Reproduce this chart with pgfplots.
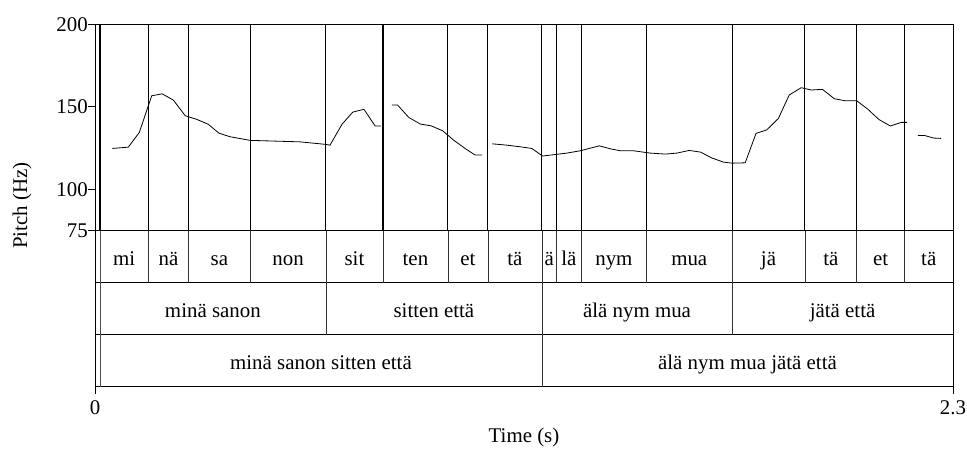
\documentclass[border=0pt]{standalone}
\usepackage{fontspec}
\setmainfont{Liberation Serif}
\usepackage{pgfplots}
\pgfplotsset{compat=1.18}
\newcommand{\bigf}{\fontsize{20.9pt}{25pt}\selectfont}
\begin{document}
\bigf
\begin{tikzpicture}[font=\bigf]
\path[use as bounding box] (-95pt,-61.3pt) rectangle (872pt,386.7pt);
\begin{axis}[
  at={(0,0)}, anchor=south west,
  scale only axis, width=858pt, height=362.4pt,
  xmin=0, xmax=2.3, ymin=-19.5, ymax=200,
  axis line style={line width=0.8pt},
  xtick={0,2.3},
  ytick={75,100,150,200},
  tick align=outside, major tick length=7pt,
  xtick pos=bottom, ytick pos=left,
  tick style={black, line width=0.8pt},
  /pgf/number format/assume math mode=true,
  tick label style={font=\bigf, inner sep=0pt},
  label style={font=\bigf},
  xticklabel style={anchor=north, yshift=-7pt},
  yticklabel style={anchor=east},
  xlabel={Time (s)}, ylabel={Pitch (Hz)},
  every axis x label/.style={at={(axis description cs:0.5,0)}, anchor=center, yshift=-51pt, font=\bigf},
  every axis y label/.style={at={(axis description cs:0,0.5)}, xshift=-73pt, rotate=90, anchor=center, font=\bigf},
  unbounded coords=jump,
  clip=false,
]
% tier horizontal lines
\draw[line width=0.8pt] (axis cs:0,75) -- (axis cs:2.3,75);
\draw[line width=0.8pt] (axis cs:0,43.5) -- (axis cs:2.3,43.5);
\draw[line width=0.8pt] (axis cs:0,12) -- (axis cs:2.3,12);
% first boundary
\draw[line width=1.5pt] (axis cs:0.0134,75) -- (axis cs:0.0134,200);
\draw[line width=0.6pt, black!70] (axis cs:0.0134,-19.5) -- (axis cs:0.0134,75);
% syllable boundaries through pitch area and tier 1
\pgfplotsinvokeforeach{0.143,0.251,0.416,0.619,0.772,0.946,1.053,1.198,1.237,1.304,1.478,1.708,1.903,2.042,2.170}{
  \draw[line width=1.1pt] (axis cs:#1,75) -- (axis cs:#1,200);
  \draw[line width=0.6pt, black!80] (axis cs:#1,43.5) -- (axis cs:#1,75);
}
% tier 2 boundaries
\pgfplotsinvokeforeach{0.619,1.198,1.708}{
  \draw[line width=0.6pt, black!80] (axis cs:#1,12) -- (axis cs:#1,43.5);
}
% tier 3 boundary
\draw[line width=0.6pt, black!80] (axis cs:1.198,-19.5) -- (axis cs:1.198,12);

\addplot[black, line width=0.8pt] coordinates {
(0.0464,124.8) (0.0893,125.6) (0.1188,134.5) (0.152,156.7) (0.180,157.9)
(0.210,154.1) (0.242,144.6) (0.273,142.4) (0.304,139.4) (0.332,134.1)
(0.362,131.9) (0.416,129.7) (0.550,128.8) (0.617,127.3) (0.630,126.8)
(0.662,139.4) (0.691,146.8) (0.721,148.5) (0.751,138.4) (0.766,138.4)
(0.78,nan)
(0.796,151.1) (0.811,151.1) (0.841,143.6) (0.872,139.6) (0.901,138.5)
(0.932,135.5) (0.961,129.9) (0.992,124.8) (1.019,120.8) (1.037,120.8)
(1.05,nan)
(1.065,127.6) (1.104,126.8) (1.140,125.8) (1.171,124.8) (1.200,120.2)
(1.229,121.0) (1.265,122.0) (1.301,123.4) (1.352,126.4) (1.381,124.6)
(1.408,123.4) (1.444,123.4) (1.488,122.0) (1.529,121.4) (1.560,122.0)
(1.593,123.6) (1.623,122.6) (1.654,119.0) (1.685,116.5) (1.708,115.9)
(1.743,116.1) (1.772,133.9) (1.801,136.1) (1.832,143.0) (1.861,157.2)
(1.893,161.6) (1.920,160.2) (1.950,160.6) (1.982,154.9) (2.011,153.7)
(2.042,153.7) (2.072,148.5) (2.101,142.4) (2.132,138.4) (2.161,140.6)
(2.177,140.6)
(2.19,nan)
(2.206,132.7) (2.223,132.7) (2.248,131.1) (2.268,130.9)
};

% tier 1 labels
\node[anchor=base] at (axis cs:0.078,54.0) {mi};
\node[anchor=base] at (axis cs:0.197,54.0) {nä};
\node[anchor=base] at (axis cs:0.3335,54.0) {sa};
\node[anchor=base] at (axis cs:0.5175,54.0) {non};
\node[anchor=base] at (axis cs:0.6955,54.0) {sit};
\node[anchor=base] at (axis cs:0.859,54.0) {ten};
\node[anchor=base] at (axis cs:0.9995,54.0) {et};
\node[anchor=base] at (axis cs:1.1255,54.0) {tä};
\node[anchor=base] at (axis cs:1.2175,54.0) {ä};
\node[anchor=base] at (axis cs:1.2705,54.0) {lä};
\node[anchor=base] at (axis cs:1.391,54.0) {nym};
\node[anchor=base] at (axis cs:1.593,54.0) {mua};
\node[anchor=base] at (axis cs:1.8055,54.0) {jä};
\node[anchor=base] at (axis cs:1.9725,54.0) {tä};
\node[anchor=base] at (axis cs:2.106,54.0) {et};
\node[anchor=base] at (axis cs:2.235,54.0) {tä};
% tier 2 labels
\node[anchor=base] at (axis cs:0.316,22.6) {minä sanon};
\node[anchor=base] at (axis cs:0.9085,22.6) {sitten että};
\node[anchor=base] at (axis cs:1.453,22.6) {älä nym mua};
\node[anchor=base] at (axis cs:2.004,22.6) {jätä että};
% tier 3 labels
\node[anchor=base] at (axis cs:0.6057,-8.9) {minä sanon sitten että};
\node[anchor=base] at (axis cs:1.749,-8.9) {älä nym mua jätä että};
\end{axis}
\end{tikzpicture}
\end{document}
